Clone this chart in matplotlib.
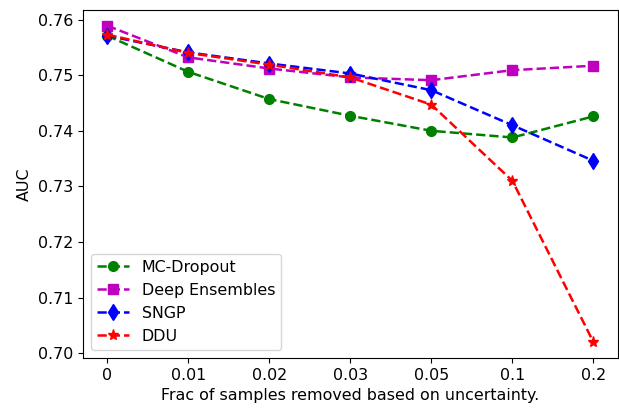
import numpy as np
import matplotlib
matplotlib.use("Agg")
import matplotlib.pyplot as plt

fracs = ["0", "0.01", "0.02", "0.03", "0.05", "0.1", "0.2"]
mc_dropout = [0.7571, 0.7506, 0.7457, 0.7427, 0.7400, 0.7388, 0.7426]
deep_ens = [0.7589, 0.7532, 0.7512, 0.7496, 0.7491, 0.7509, 0.7517]
sngp = [0.7571, 0.7541, 0.7521, 0.7503, 0.7473, 0.7410, 0.7346]
ddu = [0.7573, 0.7540, 0.7519, 0.7496, 0.7447, 0.7310, 0.7020]

plt.rcParams["font.size"] = 11.4
fig = plt.figure(figsize=(6.19, 4.11), dpi=100)
ax = fig.add_axes([0.134, 0.129, 0.864, 0.847])
x = np.arange(len(fracs))
ax.plot(x, mc_dropout, "g--o", ms=7, lw=1.8, label="MC-Dropout")
ax.plot(x, deep_ens, "m--s", ms=7, lw=1.8, label="Deep Ensembles")
ax.plot(x, sngp, "b--d", ms=8, lw=1.8, label="SNGP")
ax.plot(x, ddu, "r--*", ms=8, lw=1.8, label="DDU")
ax.set_xticks(x, fracs)
ax.set_yticks([0.70, 0.71, 0.72, 0.73, 0.74, 0.75, 0.76])
ax.set_xlabel("Frac of samples removed based on uncertainty.")
ax.set_ylabel("AUC")
ax.legend(loc="lower left")
fig.savefig("out.png", dpi=100)
